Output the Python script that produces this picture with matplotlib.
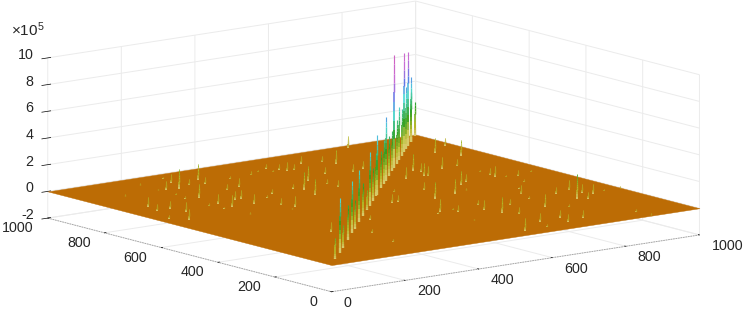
import numpy as np
import matplotlib
matplotlib.use('Agg')
import matplotlib.pyplot as plt
from matplotlib.colors import LinearSegmentedColormap, to_rgb
from mpl_toolkits.mplot3d import proj3d
from mpl_toolkits.mplot3d.art3d import Line3DCollection, Poly3DCollection

plt.rcParams['font.family'] = ['Liberation Sans', 'DejaVu Sans']
plt.rcParams['mathtext.fontset'] = 'custom'
plt.rcParams['mathtext.rm'] = 'Liberation Sans'

# spikes along the diagonal (x = y), heights in units of 1e5
ridge_pos = [44, 96, 131, 195, 243, 275, 327, 375, 419, 455, 491, 530, 539, 587, 623, 647,
             683, 719, 746, 775, 802, 838, 866, 886, 914, 943, 946, 990]
ridge_h = [1.58, 4.07, 1.7, 2.57, 3.9, 2.16, 3.9, 2.46, 1.5, 4.0, 2.5, 3.25, 4.44, 2.8, 3.3, 4.8,
           3.0, 3.0, 8.46, 3.26, 4.0, 3.5, 7.4, 4.65, 7.0, 4.86, 3.7, 2.5]

# scattered spikes off the diagonal
peak_x = [242, 327, 264, 217, 280, 213, 318, 69, 96, 58, 56, 100, 28, 210, 212, 354, 282, 265, 311, 271,
          451, 367, 306, 319, 436, 447, 511, 430, 541, 557, 536, 612, 520, 910, 977, 939, 862, 820, 740, 746,
          763, 613, 679, 744, 774, 533, 647, 855, 858, 899, 633, 619, 697, 787, 744, 855, 895, 900, 914, 638,
          701, 686, 737, 552, 653, 641, 564, 852, 873, 867, 996, 871, 257, 281, 510, 527, 759, 586, 694, 364,
          217, 673, 588, 646, 523, 521, 685, 659, 799]
peak_y = [850, 896, 908, 747, 865, 859, 858, 735, 692, 689, 574, 643, 609, 672, 624, 784, 683, 684, 773, 625,
          869, 686, 574, 541, 701, 678, 745, 614, 857, 854, 880, 902, 905, 815, 868, 762, 674, 675, 632, 628,
          673, 429, 445, 508, 529, 310, 514, 534, 555, 510, 219, 266, 273, 353, 214, 242, 323, 283, 264, 93,
          104, 56, 71, 34, 186, 316, 286, 312, 228, 52, 273, 5, 116, 220, 448, 449, 698, 538, 636, 337,
          282, 855, 786, 762, 655, 693, 778, 888, 978]
peak_h = [1.5, 1.25, .7, 1.05, .5, .65, .5, .75, .6, .55, .8, .75, .3, .7, .87, .7, .67, .65, .5, .75,
          .3, .37, .57, .8, .37, 1.3, 1.15, 1.25, .67, .5, .4, .6, .4, 1.15, .6, 1.17, .57, .87, 1.0, .8,
          .67, 1.25, 1.1, 1.07, .62, .95, .62, .87, .57, .45, 1.2, .75, .5, .67, .95, 1.87, .8, .7, .75, .67,
          .55, .57, .57, 1.0, .55, .42, .5, .5, .5, .25, .15, .15, .25, .32, .7, .5, 1.2, .25, .85, .35,
          .75, 1.0, .5, .62, .5, .42, .62, .5, .9]

# tiny specks on the plane
speck_x = [197, 195, 98, 193, 186, 178, 194, 187, 332, 298, 510, 485, 394, 279, 863, 874, 950, 720, 873, 822,
           537, 566, 519, 618, 786, 950, 773]
speck_y = [929, 863, 856, 797, 758, 664, 539, 622, 659, 527, 867, 887, 868, 956, 595, 519, 528, 459, 453, 404,
           194, 307, 299, 41, 182, 271, 306]
speck_h = [.15, .12, .15, .2, .2, .2, .15, .15, .2, .12, .2, .15, .2, .15, .2, .15, .2, .15, .2, .15,
           .12, .2, .15, .2, .2, .15, .2]

ticks_xy = [0, 200, 400, 600, 800, 1000]
ticks_z = [-2, 0, 2, 4, 6, 8, 10]

plane_color = '#bc6c05'
pale = np.array(to_rgb('#efe6a0'))
cmap = LinearSegmentedColormap.from_list('spike', [
    (0.0, '#b8a020'), (0.1, '#b4b828'), (0.26, '#30a020'), (0.47, '#50d8d8'),
    (0.6, '#5878e8'), (0.75, '#c870d8'), (1.0, '#d060c0')])

fig = plt.figure(figsize=(7.47, 3.09), dpi=100)
# 3d axes is forced square, so make it as wide as the figure and let it hang over top and bottom
side = 747 / 309
ax = fig.add_axes([-10 / 747, (1 - side) / 2 - 2 / 309, 1, side], projection='3d', proj_type='ortho')
ax.patch.set_alpha(0)
ax.computed_zorder = False
ax.view_init(elev=11.55, azim=-127.65)
ax.set_xlim(0, 1000, view_margin=0)
ax.set_ylim(0, 1000, view_margin=0)
ax.set_zlim(-2, 10, view_margin=0)
ax.set_box_aspect((466, 466, 164), zoom=0.88)

plane = Poly3DCollection([[(0, 0, 0), (1000, 0, 0), (1000, 1000, 0), (0, 1000, 0)]],
                         facecolor=plane_color, edgecolor=plane_color, linewidth=0.3, zorder=2)
ax.add_collection3d(plane)

# every spike is cut in pieces so colour follows height
all_x = list(ridge_pos) + peak_x + speck_x
all_y = list(ridge_pos) + peak_y + speck_y
all_h = list(ridge_h) + peak_h + speck_h
segs, cols, widths = [], [], []
for n, (x, y, h) in enumerate(zip(all_x, all_y, all_h)):
    fat = 1.3 if n < len(ridge_pos) else 1.0
    edges = np.linspace(0, h, 13)
    for i in range(12):
        frac = (i + 0.5) / 12
        c = np.array(cmap(((edges[i] + edges[i + 1]) / 2) / 8.5))[:3]
        mix = max(0, 1 - frac / 0.3) * 0.65
        c = c * (1 - mix) + pale * mix
        segs.append([(x, y, edges[i]), (x, y, edges[i + 1])])
        cols.append(c)
        widths.append(fat * (1.35 - 0.75 * frac))
ax.add_collection3d(Line3DCollection(segs, colors=cols, linewidths=widths, zorder=3))

ax.set_xticks(ticks_xy)
ax.set_yticks(ticks_xy)
ax.set_zticks(ticks_z)
ax.set_xticklabels([])
ax.set_yticklabels([])
ax.set_zticklabels([])
for axis in (ax.xaxis, ax.yaxis, ax.zaxis):
    axis.set_pane_color((1, 1, 1, 0))
    axis.pane.set_edgecolor((1, 1, 1, 0))
    axis.line.set_color('#a0a0a0')
    axis.line.set_linewidth(0.6)
    axis.line.set_linestyle((0, (2, 1)))
    axis._axinfo['grid'].update(color='#ebebeb', linewidth=0.7)
    axis._axinfo['tick'].update(color='#a8a8a8', linewidth={True: 0.5, False: 0.4})
ax.zaxis.line.set_color((1, 1, 1, 0))
ax.xaxis._axinfo['tick'].update(inward_factor=0.0, outward_factor=0.05)
ax.yaxis._axinfo['tick'].update(inward_factor=0.0, outward_factor=0.05)

# tick labels sit a fixed number of pixels off their projected tick, like the original
M = ax.get_proj()


def tick_label(x, y, z, text, ha, dx, dy):
    px, py, _ = proj3d.proj_transform(x, y, z, M)
    ax.annotate(text, (px, py), xytext=(dx, dy), textcoords='offset pixels', ha=ha, va='center',
                fontsize=10.3, color='#262626', annotation_clip=False)


for v in ticks_xy:
    tick_label(v, 0, -2, str(v), 'left', 12, -11)
    tick_label(0, v, -2, str(v), 'right', -14, -10)
for v in ticks_z:
    tick_label(0, 1000, v, str(v), 'right', -14, 3)

fig.text(11 / 747, 1 - 36 / 309, r'$\times\mathregular{10^5}$', fontsize=11, color='#262626')
fig.savefig('out.png', dpi=100)
